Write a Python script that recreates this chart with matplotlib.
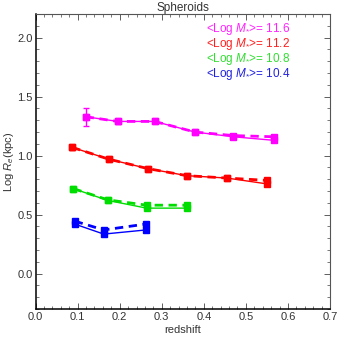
import matplotlib
matplotlib.use('Agg')
import matplotlib.pyplot as plt
from matplotlib.ticker import MultipleLocator

plt.rcParams['font.family'] = ['Liberation Sans', 'DejaVu Sans']
plt.rcParams['mathtext.fontset'] = 'custom'
plt.rcParams['mathtext.it'] = 'Liberation Sans:italic'
plt.rcParams['mathtext.rm'] = 'Liberation Sans'

# mass bins (log M*)
labels = ['11.6', '11.2', '10.8', '10.4']
colors = ['#ff00ff', '#ff0000', '#00dd00', '#0000ff']
text_colors = ['#ff22ff', '#ff2020', '#33dd33', '#2222dd']

# redshift bins for each mass bin
z_m116 = [0.119, 0.195, 0.283, 0.379, 0.470, 0.566]
z_m112 = [0.087, 0.174, 0.267, 0.360, 0.455, 0.551]
z_m108 = [0.090, 0.172, 0.264, 0.361]
z_m104 = [0.093, 0.162, 0.262]

# log Re, solid series
re_solid_116 = [1.33, 1.29, 1.29, 1.20, 1.16, 1.13]
re_solid_112 = [1.07, 0.97, 0.89, 0.83, 0.81, 0.76]
re_solid_108 = [0.72, 0.62, 0.555, 0.555]
re_solid_104 = [0.42, 0.335, 0.37]

# log Re, dashed series
re_dash_116 = [1.33, 1.29, 1.29, 1.20, 1.17, 1.16]
re_dash_112 = [1.07, 0.97, 0.89, 0.83, 0.81, 0.79]
re_dash_108 = [0.72, 0.625, 0.58, 0.58]
re_dash_104 = [0.445, 0.37, 0.42]

# errors (only visible on first high-mass point)
err_116 = [0.075, 0.02, 0.015, 0.01, 0.01, 0.015]
err_112 = [0.02, 0.01, 0.01, 0.01, 0.01, 0.015]
err_108 = [0.015, 0.01, 0.01, 0.01]
err_104 = [0.02, 0.015, 0.015]

z_all = [z_m116, z_m112, z_m108, z_m104]
solid_all = [re_solid_116, re_solid_112, re_solid_108, re_solid_104]
dash_all = [re_dash_116, re_dash_112, re_dash_108, re_dash_104]
err_all = [err_116, err_112, err_108, err_104]

fig = plt.figure(figsize=(3.39, 3.39), dpi=100)
ax = fig.add_axes([0.105, 0.0885, 0.8685, 0.870])

for z, s, d, e, c in zip(z_all, solid_all, dash_all, err_all, colors):
    ax.errorbar(z, s, yerr=e, color=c, lw=1.0, marker='s', ms=4,
                capsize=2, elinewidth=1.0)
    ax.plot(z, d, color=c, lw=2.0, ls=(0, (3, 2)), marker='s', ms=4)

for i, (lab, tc) in enumerate(zip(labels, text_colors)):
    ax.text(0.404, 2.07 - i * 0.125, r'<Log $M_{*}$>= ' + lab, color=tc,
            fontsize=8.5, ha='left', va='center')

ax.set_xlim(0, 0.7)
ax.set_ylim(-0.3, 2.2)
ax.xaxis.set_major_locator(MultipleLocator(0.1))
ax.xaxis.set_minor_locator(MultipleLocator(0.02))
ax.yaxis.set_major_locator(MultipleLocator(0.5))
ax.yaxis.set_minor_locator(MultipleLocator(0.1))
ax.tick_params(which='both', direction='in', top=True, right=True,
               labelsize=8, colors='#444444', labelcolor='#333333')
ax.tick_params(which='major', length=4, width=0.6, pad=2)
ax.tick_params(which='minor', length=2, width=0.5)
for side in ['left', 'bottom']:
    ax.spines[side].set_linewidth(1.1)
for side in ['top', 'right']:
    ax.spines[side].set_linewidth(0.8)
    ax.spines[side].set_color('#555555')

ax.set_title('Spheroids', fontsize=8.5, pad=2, color='#333333')
ax.set_xlabel('redshift', fontsize=8, color='#333333', labelpad=2)
ax.set_ylabel(r'Log $R_e$(kpc)', fontsize=8, color='#333333', labelpad=1)

fig.savefig('out.png', dpi=100)
